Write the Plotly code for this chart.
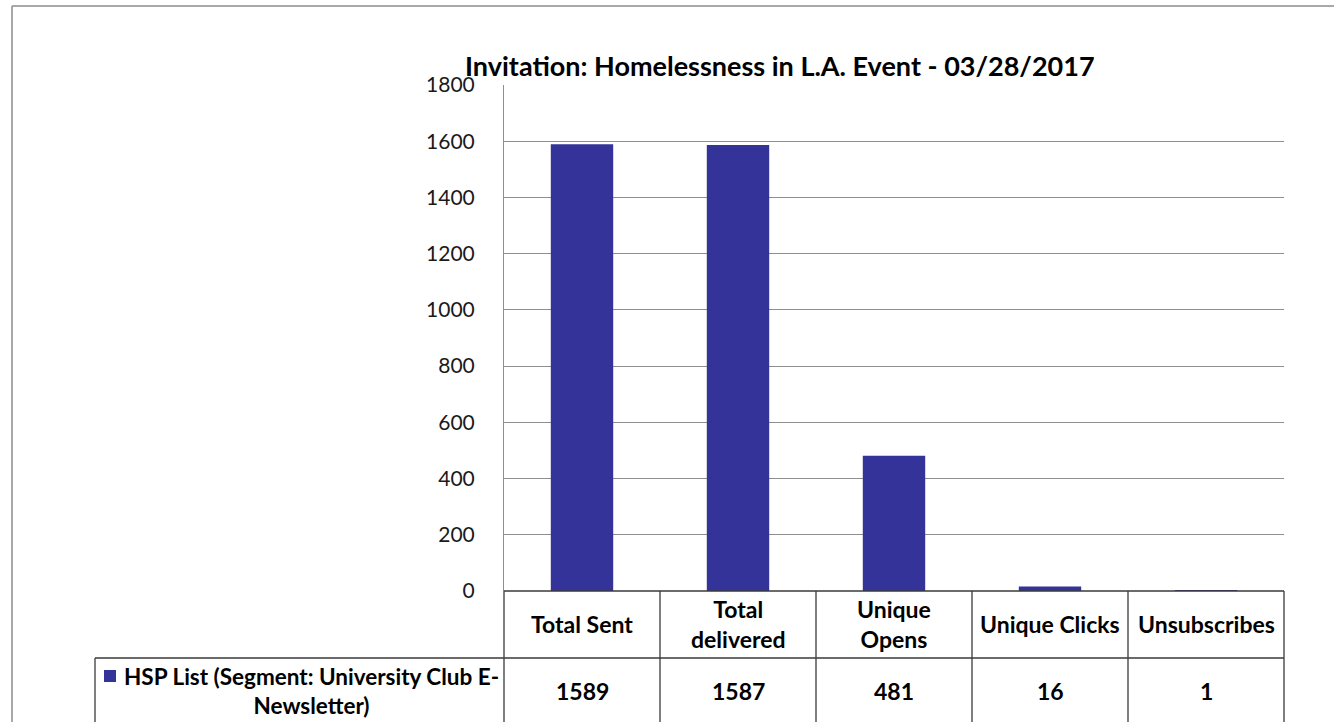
import plotly.graph_objects as go

# Campaign metrics for the invitation email
categories = ["Total Sent", "Total delivered", "Unique Opens", "Unique Clicks", "Unsubscribes"]
category_labels = ["Total Sent", "Total<br>delivered", "Unique<br>Opens", "Unique Clicks", "Unsubscribes"]
values = [1589, 1587, 481, 16, 1]
series_name = "HSP List (Segment: University Club E-<br>Newsletter)"
title_text = "Invitation: Homelessness in L.A. Event - 03/28/2017"

W, H = 1334, 722
BAR_COLOR = "#333399"
FONT = "Lato"


def px(x):
    return x / W


def py(y):
    return 1 - y / H


# plot area in pixels
X0, X1 = 504, 1284
Y_TOP, Y_ZERO = 85, 591
ROW1_BOTTOM = 658
LEG_LEFT = 95

fig = go.Figure()
fig.add_trace(go.Bar(
    x=categories,
    y=values,
    marker=dict(color=BAR_COLOR, line=dict(width=0)),
    name=series_name,
    showlegend=False,
))

shapes = []
line_dark = dict(color="#3a3a3a", width=1.3)
# outer chart border
shapes.append(dict(type="line", xref="paper", yref="paper", x0=px(12), x1=px(12), y0=py(6), y1=py(722),
                   line=dict(color="#8c8c8c", width=1.5)))
shapes.append(dict(type="line", xref="paper", yref="paper", x0=px(12), x1=px(1334), y0=py(6), y1=py(6),
                   line=dict(color="#8c8c8c", width=1.5)))
# data table grid
shapes.append(dict(type="line", xref="paper", yref="paper", x0=px(X0), x1=px(X1), y0=py(Y_ZERO), y1=py(Y_ZERO), line=line_dark))
shapes.append(dict(type="line", xref="paper", yref="paper", x0=px(LEG_LEFT), x1=px(X1), y0=py(ROW1_BOTTOM), y1=py(ROW1_BOTTOM), line=line_dark))
shapes.append(dict(type="line", xref="paper", yref="paper", x0=px(LEG_LEFT), x1=px(LEG_LEFT), y0=py(ROW1_BOTTOM), y1=py(H), line=line_dark))
n = len(categories)
col_w = (X1 - X0) / n
for i in range(n + 1):
    xx = X0 + i * col_w
    shapes.append(dict(type="line", xref="paper", yref="paper", x0=px(xx), x1=px(xx), y0=py(Y_ZERO), y1=py(H), line=line_dark))
# legend key
shapes.append(dict(type="rect", xref="paper", yref="paper", x0=px(104), x1=px(116), y0=py(682), y1=py(670),
                   fillcolor=BAR_COLOR, line=dict(width=0)))

annotations = []
annotations.append(dict(text=title_text, x=px(780), y=py(65), xref="paper", yref="paper",
                        showarrow=False, xanchor="center", yanchor="middle",
                        font=dict(family=FONT, size=27, color="#000000", weight="bold")))
for cat, lab, v in zip(categories, category_labels, values):
    annotations.append(dict(text=lab, x=cat, xref="x", y=py(624), yref="paper", showarrow=False,
                            xanchor="center", yanchor="middle",
                            font=dict(family=FONT, size=23, color="#000000", weight="bold")))
    annotations.append(dict(text=str(v), x=cat, xref="x", y=py(691), yref="paper", showarrow=False,
                            xanchor="center", yanchor="middle",
                            font=dict(family=FONT, size=23, color="#000000", weight="bold")))
annotations.append(dict(text=series_name, x=px(311), y=py(691), xref="paper", yref="paper",
                        showarrow=False, xanchor="center", yanchor="middle", align="center",
                        font=dict(family=FONT, size=22.5, color="#000000", weight="bold")))

fig.update_layout(
    width=W, height=H,
    margin=dict(l=0, r=0, t=0, b=0, autoexpand=False),
    paper_bgcolor="white", plot_bgcolor="white",
    bargap=0.6,
    shapes=shapes,
    annotations=annotations,
    xaxis=dict(domain=[px(X0), px(X1)], showticklabels=False, showgrid=False, zeroline=False,
               showline=False, ticks="", automargin=False),
    yaxis=dict(domain=[py(Y_ZERO), py(Y_TOP)], range=[0, 1800], dtick=200, tick0=0,
               showgrid=True, gridcolor="#8f8f8f", gridwidth=1, zeroline=False,
               showline=True, linecolor="#8f8f8f", linewidth=1, ticks="",
               ticklabelstandoff=24, automargin=False,
               tickfont=dict(family=FONT, size=21, color="#1a1a1a")),
)

fig.write_html("out.html")
